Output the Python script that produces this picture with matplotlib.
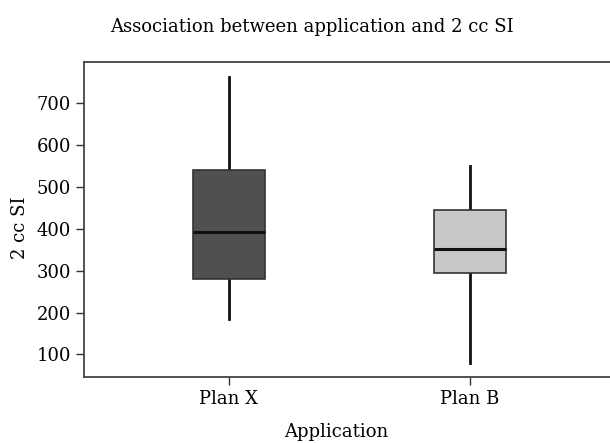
import matplotlib
matplotlib.use('Agg')
import matplotlib.pyplot as plt

groups = ['Plan X', 'Plan B']
whislo = [184, 80]
q1 = [280, 294]
med = [393, 352]
q3 = [540, 446]
whishi = [763, 550]
fills = ['#505050', '#c8c8c8']

plt.rcParams['font.family'] = ['DejaVu Serif']

fig = plt.figure(figsize=(6.10, 4.43), dpi=100)
ax = fig.add_axes([84.3 / 610, 1 - 376.7 / 443, (610 - 84.3) / 610, (376.7 - 62) / 443])

stats = []
for i in range(len(groups)):
    stats.append({'label': groups[i], 'whislo': whislo[i], 'q1': q1[i], 'med': med[i],
                  'q3': q3[i], 'whishi': whishi[i], 'fliers': []})

bp = ax.bxp(stats, positions=[1, 2], widths=0.30, patch_artist=True, showcaps=False,
            boxprops=dict(edgecolor='#333333', linewidth=1.2, zorder=3),
            whiskerprops=dict(color='#111111', linewidth=2, zorder=2),
            medianprops=dict(color='#111111', linewidth=2.2, zorder=4))
for patch, c in zip(bp['boxes'], fills):
    patch.set_facecolor(c)

ax.set_xlim(0.4, 2.58)
ax.set_ylim(46.5, 799)
ax.set_yticks([100, 200, 300, 400, 500, 600, 700])
ax.tick_params(labelsize=13, length=6, width=1, color='#333333')
ax.spines['right'].set_visible(False)
for s in ['left', 'bottom', 'top']:
    ax.spines[s].set_color('#444444')
    ax.spines[s].set_linewidth(1.3)

fig.text(312 / 610, 1 - 32 / 443, 'Association between application and 2 cc SI',
         ha='center', va='baseline', fontsize=13)
fig.text(336.7 / 610, 1 - 437 / 443, 'Application', ha='center', va='baseline', fontsize=13)
fig.text(20 / 610, 1 - 228 / 443, '2 cc SI', ha='center', va='center', rotation=90, fontsize=13)

fig.savefig('out.png', dpi=100)
